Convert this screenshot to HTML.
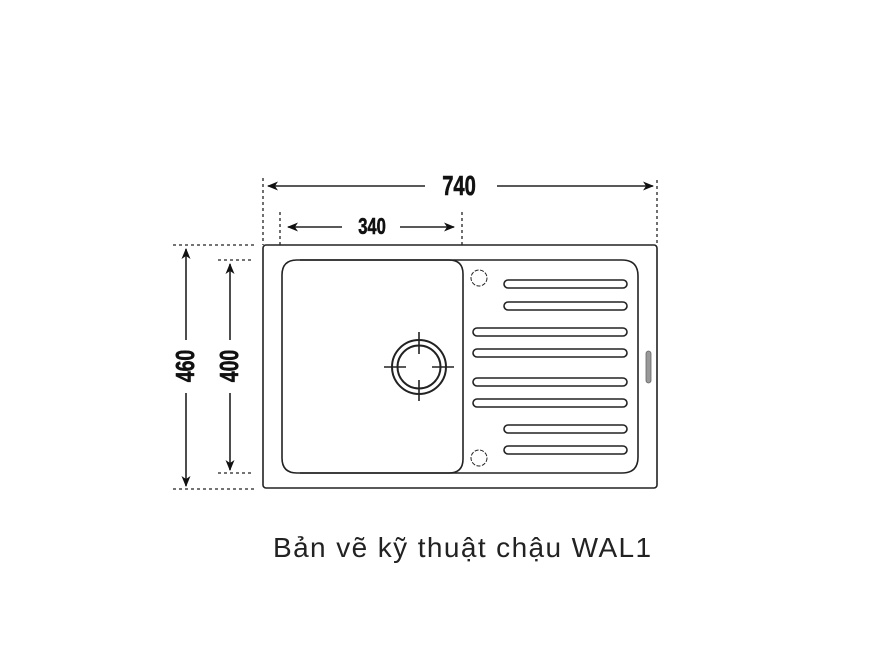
<!DOCTYPE html>
<html><head><meta charset="utf-8"><style>
html,body{margin:0;padding:0;background:#fff;width:870px;height:653px;overflow:hidden}
svg{position:absolute;left:0;top:0}
.cap{position:absolute;left:273px;top:532px;font-family:"Liberation Sans","DejaVu Sans",sans-serif;font-size:28px;color:#222;white-space:nowrap;letter-spacing:1.4px}
</style></head><body>
<svg width="870" height="653" viewBox="0 0 870 653">
<defs>
<marker id="a" markerWidth="11" markerHeight="9" refX="10" refY="4.5" orient="auto" markerUnits="userSpaceOnUse"><path d="M0,0 L11,4.5 L0,9 L3,4.5 Z" fill="#111"/></marker>
</defs>
<g stroke="#222" stroke-width="1.6" fill="none">
<g stroke-dasharray="3,3" stroke-width="1.3">
<line x1="263" y1="178" x2="263" y2="245"/>
<line x1="657" y1="180" x2="657" y2="245"/>
<line x1="280" y1="212" x2="280" y2="245"/>
<line x1="462" y1="212" x2="462" y2="245"/>
<line x1="173" y1="245" x2="254" y2="245"/>
<line x1="173" y1="489" x2="254" y2="489"/>
<line x1="218" y1="260" x2="254" y2="260"/>
<line x1="218" y1="473" x2="254" y2="473"/>
</g>
<line x1="425" y1="186" x2="268" y2="186" marker-end="url(#a)"/>
<line x1="497" y1="186" x2="653" y2="186" marker-end="url(#a)"/>
<line x1="342" y1="227" x2="288" y2="227" marker-end="url(#a)"/>
<line x1="400" y1="227" x2="454" y2="227" marker-end="url(#a)"/>
<line x1="186" y1="340" x2="186" y2="249" marker-end="url(#a)"/>
<line x1="186" y1="393" x2="186" y2="486" marker-end="url(#a)"/>
<line x1="230" y1="340" x2="230" y2="264" marker-end="url(#a)"/>
<line x1="230" y1="393" x2="230" y2="470" marker-end="url(#a)"/>
<rect x="263" y="245" width="394" height="243" rx="3"/>
<path d="M300,260 L622,260 Q638,260 638,276 L638,457 Q638,473 622,473 L300,473"/>
<path d="M297,260 L449,260 Q463,260 463,274 L463,459 Q463,473 449,473 L297,473 Q282,473 282,458 L282,275 Q282,260 297,260 Z"/>
<circle cx="419" cy="367" r="27" stroke-width="2"/>
<circle cx="419" cy="367" r="21.5" stroke-width="2"/>
<line x1="384" y1="367" x2="406" y2="367"/>
<line x1="432" y1="367" x2="454" y2="367"/>
<line x1="419" y1="332" x2="419" y2="354"/>
<line x1="419" y1="380" x2="419" y2="401"/>
<circle cx="479" cy="278" r="8" stroke-dasharray="4,1.5" stroke-width="1"/>
<circle cx="479" cy="458" r="8" stroke-dasharray="4,1.5" stroke-width="1"/>
<rect x="504" y="280" width="123" height="8" rx="4"/>
<rect x="504" y="302" width="123" height="8" rx="4"/>
<rect x="473" y="328" width="154" height="8" rx="4"/>
<rect x="473" y="349" width="154" height="8" rx="4"/>
<rect x="473" y="378" width="154" height="8" rx="4"/>
<rect x="473" y="399" width="154" height="8" rx="4"/>
<rect x="504" y="425" width="123" height="8" rx="4"/>
<rect x="504" y="446" width="123" height="8" rx="4"/>
</g>
<rect x="646" y="351" width="5" height="32" rx="2.5" fill="#999" stroke="#666" stroke-width="0.8"/>
<g font-family="Liberation Sans, sans-serif" font-weight="bold" fill="#111" text-anchor="middle" stroke="#111" stroke-width="0.6">
<text transform="translate(459 195) scale(0.72 1)" font-size="28">740</text>
<text transform="translate(372 234) scale(0.72 1)" font-size="23">340</text>
<text transform="translate(194 366) rotate(-90) scale(0.75 1)" font-size="26">460</text>
<text transform="translate(238 366) rotate(-90) scale(0.75 1)" font-size="26">400</text>
</g>
</svg>
<div class="cap">Bản vẽ kỹ thuật chậu WAL1</div>
</body></html>
